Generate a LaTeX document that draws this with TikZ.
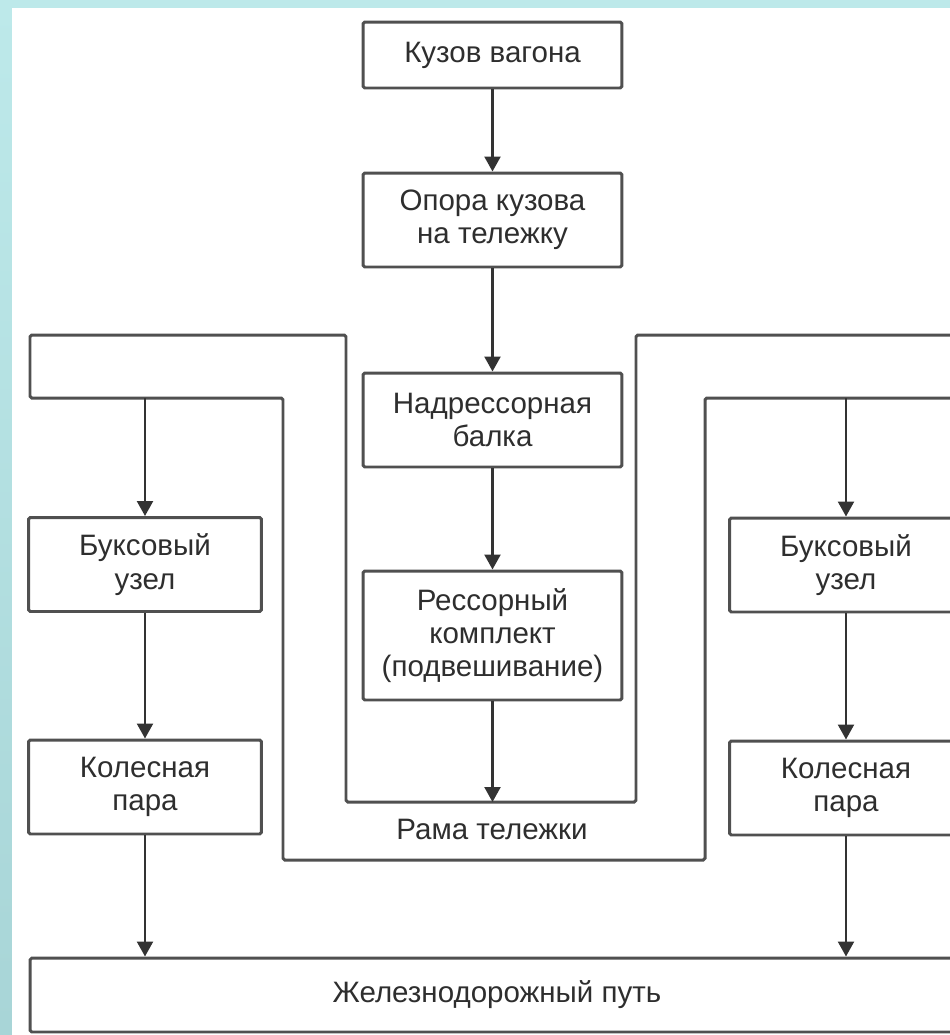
\documentclass[tikz,border=0pt]{standalone}
\usepackage{fontspec}
\setmainfont{Liberation Sans}
\usetikzlibrary{arrows.meta}
\definecolor{bgtop}{HTML}{BDE9EA}
\definecolor{bgbot}{HTML}{A8D5D7}
\definecolor{ln}{HTML}{505050}
\definecolor{tx}{HTML}{2E2E2E}
\newcommand{\txt}{\fontsize{16.8}{19}\selectfont}

\begin{document}
\begin{tikzpicture}[x=0.02cm,y=-0.02cm,
  blk/.style={draw=ln,line width=1.7pt,rounded corners=1pt,fill=white,align=center,
    text=tx,font=\txt,inner sep=0pt,minimum width=5.18cm,minimum height=1.88cm},
  side/.style={blk,minimum width=4.66cm},
  arr/.style={draw=black!80,line width=1.5pt,-{Triangle[width=9pt,length=8.5pt]}}]
  \useasboundingbox (0,0) rectangle (950,1035);
  \clip (0,0) rectangle (950,1035);
  \shade[top color=bgtop,bottom color=bgbot] (0,0) rectangle (950,1035);
  \fill[white] (12,8) rectangle (950,1035);

  \draw[ln,line width=1.7pt,rounded corners=1pt] (30,335) -| (346,802) -| (636,335) -- (957,335)
    |- (705,398) |- (283,860) |- (30,398) -- cycle;
  \coordinate (frL) at (145,398);
  \coordinate (frR) at (846,398);
  \coordinate (frC) at (492.5,802);

  \node[blk,minimum height=1.32cm] (kuzov) at (492.5,55) {Кузов вагона};
  \node[blk] (opora) at (492.5,220) {Опора кузова\\на тележку};
  \node[blk] (nadr) at (492.5,420) {Надрессорная\\балка};
  \node[blk,minimum height=2.58cm] (ress) at (492.5,635.5) {Рессорный\\комплект\\(подвешивание)};
  \node[text=tx,font=\txt] (rama) at (492,829) {Рама тележки};
  \node[side] (bukL) at (145,564.5) {Буксовый\\узел};
  \node[side] (kolL) at (145,787) {Колесная\\пара};
  \node[side] (bukR) at (846,565) {Буксовый\\узел};
  \node[side] (kolR) at (846,788) {Колесная\\пара};
  \node[blk,minimum width=18.68cm,minimum height=1.48cm] (rail) at (497,995) {Железнодорожный путь};

  \draw[arr] (kuzov) -- (opora);
  \draw[arr] (opora) -- (nadr);
  \draw[arr] (nadr) -- (ress);
  \draw[arr] (ress) -- (frC);
  \draw[arr] (frL) -- (bukL);
  \draw[arr] (bukL) -- (kolL);
  \draw[arr] (kolL) -- (kolL |- rail.north);
  \draw[arr] (frR) -- (bukR);
  \draw[arr] (bukR) -- (kolR);
  \draw[arr] (kolR) -- (kolR |- rail.north);
\end{tikzpicture}
\end{document}
